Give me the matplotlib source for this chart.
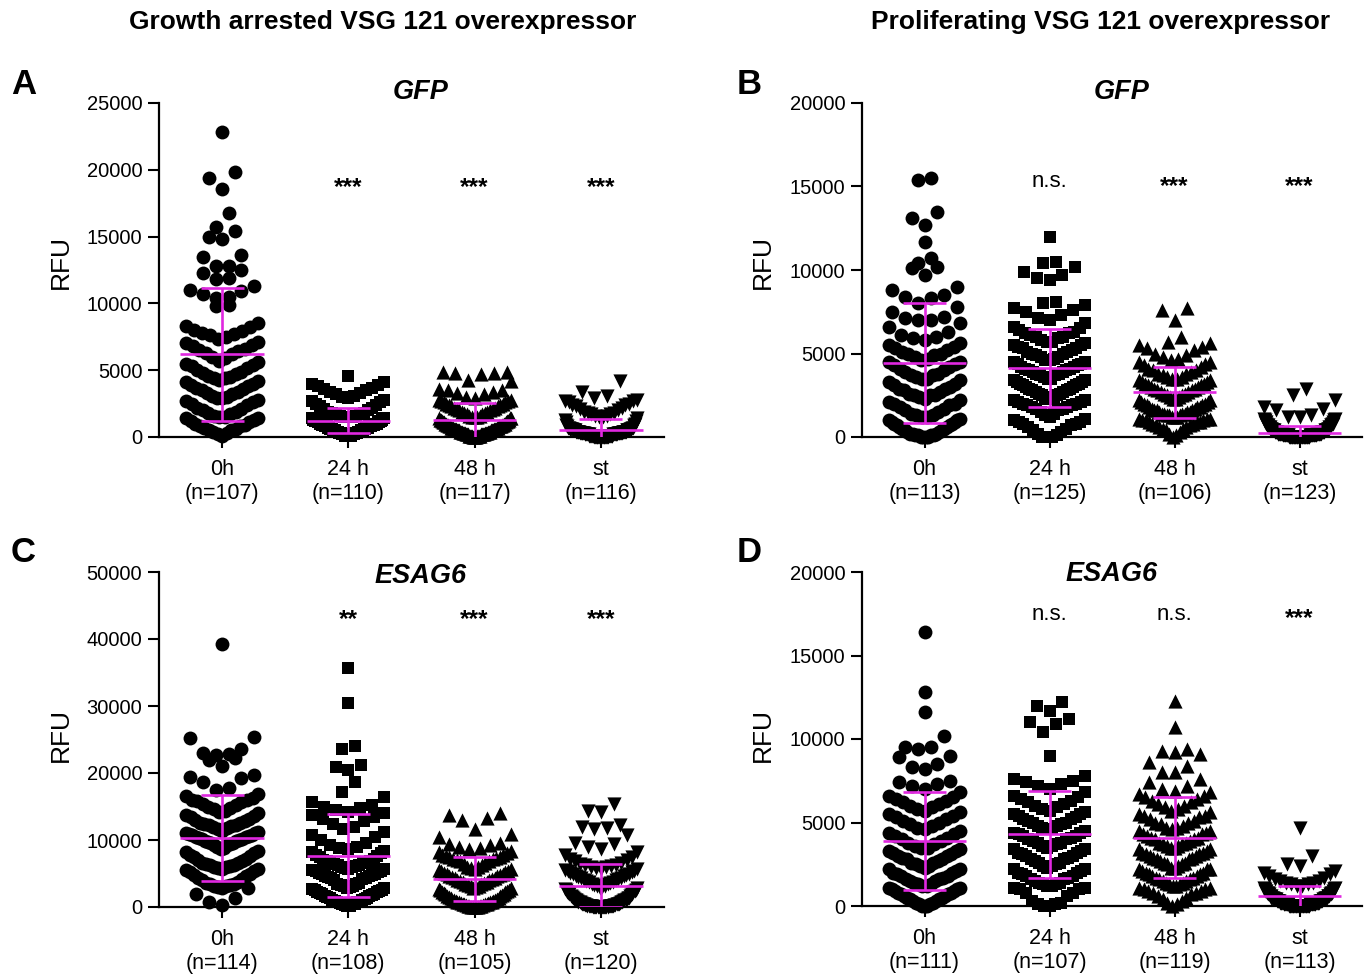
import numpy as np
import matplotlib
matplotlib.use("Agg")
import matplotlib.pyplot as plt

plt.rcParams['font.family'] = ['Liberation Sans', 'DejaVu Sans']

W, H = 1367, 974

categories = ["0h", "24 h", "48 h", "st"]

# ---- RFU values (units of 100 RFU) ----
A_0h = [228,198,194,186,168,157,154,150,148,136,
        135,128,128,125,123,119,118,113,110,109,
        107,105,104,99,98,85,83,82,80,79,
        78,77,76,75,73,70,69,68,66,65,
        64,62,60,59,57,55,54,53,52,50,
        49,48,45,44,43,42,41,40,39,38,
        37,34,33,31,30,29,28,27,26,25,
        22,20,19,17,16,15,14,14,13,11,
        10,9,8,7,6,5,4,3,2,1,
        71,63,56,47,46,44,36,35,32,29,
        24,21,18,15,12,8,5]
A_24h = [46,41,40,39,38,37,36,35,34,33,
         32,31,30,29,28,27,26,25,24,23,
         22,21,20,19,18,18,17,17,16,16,
         15,15,14,14,13,13,13,12,12,12,
         12,11,11,11,11,10,10,10,10,10,
         9,9,9,9,9,9,8,8,8,8,
         8,8,7,7,7,7,7,7,6,6,
         6,6,6,6,5,5,5,5,5,5,
         4,4,4,4,4,4,3,3,3,3,
         3,3,2,2,2,2,2,2,1,1,
         1,1,1,1,1,1,15,14,13,12]
A_48h = [49,49,48,48,47,43,42,36,35,35,
         34,33,32,30,29,28,28,27,27,26,
         26,25,25,24,24,23,23,22,22,21,
         21,20,20,19,19,18,18,17,17,16,
         16,15,15,15,14,14,14,13,13,13,
         12,12,12,11,11,11,10,10,10,10,
         9,9,9,9,8,8,8,8,8,7,
         7,7,7,7,6,6,6,6,6,6,
         5,5,5,5,5,5,4,4,4,4,
         4,4,3,3,3,3,3,3,2,2,
         2,2,2,2,2,1,1,1,1,1,
         1,1,1,0,0,0,0]
A_st = [42,34,31,29,28,27,27,26,25,24,
        24,23,22,21,20,19,18,17,16,15,
        18,17,16,15,14,13,12,11,10,9,
        9,8,8,7,7,6,6,5,5,4,
        4,4,4,3,3,3,3,2,2,2,
        7,7,6,6,6,6,6,5,5,5,
        5,5,5,4,4,4,4,4,4,3,
        3,3,3,3,3,3,3,2,2,2,
        2,2,2,2,2,2,1,1,1,1,
        1,1,1,1,1,1,1,1,0,0,
        0,0,0,0,0,0,0,0,0,0,
        0,0,0,0,0,0]

B_0h = [155,154,135,131,127,117,107,104,102,101,
        97,90,88,85,84,83,80,78,75,72,
        71,70,70,68,66,63,61,60,59,58,
        56,55,54,53,52,51,50,50,49,48,
        47,46,45,44,43,42,41,40,39,38,
        37,37,36,35,34,33,32,31,30,29,
        29,28,27,26,25,25,24,23,22,21,
        20,20,19,18,17,16,15,14,13,13,
        12,12,11,10,10,9,9,8,8,7,
        7,6,6,5,5,4,4,3,3,2,
        2,2,1,1,1,1,0,0,0,0,
        45,35,25]
B_24h = [120,105,104,102,99,97,95,94,81,80,
         79,77,76,75,73,71,70,68,66,65,
         64,63,62,62,61,60,60,59,58,57,
         57,56,55,55,54,53,53,52,51,51,
         50,50,49,48,48,47,46,46,45,45,
         44,44,43,42,42,41,41,40,40,39,
         39,38,38,37,37,36,35,35,34,34,
         33,33,32,32,31,31,30,30,29,29,
         28,28,27,27,26,26,25,25,24,24,
         23,23,22,22,21,21,20,20,19,19,
         18,18,17,17,16,15,14,13,12,11,
         10,9,9,8,8,7,6,5,4,3,
         2,1,0,0,0]
B_48h = [77,76,70,60,57,56,55,54,53,52,
         50,49,48,47,46,45,45,44,43,42,
         41,40,40,39,38,38,37,36,36,35,
         35,34,34,33,33,32,32,31,31,30,
         30,29,29,28,28,27,27,26,26,25,
         25,24,24,23,23,22,22,21,21,20,
         20,19,19,18,18,17,17,16,16,15,
         15,15,14,14,14,13,13,13,12,12,
         12,11,11,11,10,10,10,9,9,9,
         8,8,7,7,6,6,5,5,4,3,
         2,1,0,14,16,18]
B_st = [29,25,22,18,17,16,13,12,12,11,
        11,10,10,10,9,9,9,8,8,8,
        7,7,7,7,6,6,6,6,6,5,
        5,5,5,5,5,4,4,4,4,4,
        4,4,4,3,3,3,3,3,3,3,
        3,3,3,3,2,2,2,2,2,2,
        2,2,2,2,2,2,2,2,2,1,
        1,1,1,1,1,1,1,1,1,1,
        1,1,1,1,1,1,1,1,1,1,
        0,0,0,0,0,0,0,0,0,0,
        0,0,0,0,0,0,0,0,0,0,
        0,0,0,0,0,0,0,0,0,0,
        0,0,0]

C_0h = [393,253,252,236,230,229,227,222,220,211,
        197,194,192,186,178,174,169,165,163,160,
        159,158,156,154,152,150,148,146,144,142,
        140,138,136,134,132,130,128,126,125,124,
        123,122,121,120,118,116,114,112,111,110,
        109,108,107,106,105,104,103,102,101,100,
        99,98,97,96,95,94,93,92,90,88,
        86,84,82,80,78,76,74,72,70,68,
        66,65,64,63,62,61,60,59,58,57,
        56,55,54,52,50,48,46,44,42,40,
        38,36,35,34,33,32,31,30,29,28,
        20,14,8,3]
C_24h = [357,305,241,236,212,209,205,186,172,164,
         156,152,150,148,145,142,140,138,135,132,
         128,124,120,116,112,108,104,100,96,92,
         90,88,86,84,82,80,78,76,74,72,
         70,69,68,67,66,65,64,63,62,61,
         60,59,58,57,56,55,54,53,52,51,
         50,49,48,47,46,45,44,43,42,41,
         11,10,9,8,7,6,5,4,3,1,
         36,35,34,33,32,31,30,29,28,27,
         26,25,24,23,22,21,20,19,18,17,
         16,15,14,13,12,8,5,2]
C_48h = [140,137,133,130,117,109,104,96,94,92,
         90,88,86,84,82,80,78,77,76,75,
         74,73,72,71,70,69,68,66,64,62,
         60,59,58,57,56,55,54,53,52,51,
         50,49,48,47,46,45,44,43,42,41,
         40,39,38,37,36,35,34,33,32,31,
         30,29,28,27,26,25,24,23,22,21,
         20,19,18,17,16,15,14,13,12,11,
         10,10,9,9,8,8,7,7,6,6,
         5,5,4,4,3,3,2,2,1,1,
         0,0,0,0,0]
C_st = [153,143,142,122,119,118,117,107,95,94,
        90,86,82,78,75,72,70,68,66,64,
        63,62,61,60,59,58,57,56,55,54,
        53,52,51,50,49,48,47,46,45,44,
        43,42,41,40,39,38,37,36,35,34,
        33,32,31,30,29,28,27,26,25,24,
        23,22,21,20,19,18,17,16,15,14,
        13,13,12,12,11,11,10,10,9,9,
        8,8,7,7,6,6,5,5,5,4,
        4,4,3,3,3,3,2,2,2,2,
        1,1,1,1,1,1,0,0,0,0,
        0,0,0,0,0,0,0,0,0,0]

D_0h = [164,128,116,102,95,94,95,90,89,85,
        83,82,75,74,72,73,70,68,66,65,
        64,63,62,61,60,59,58,57,56,55,
        54,53,52,51,50,49,48,47,46,45,
        44,43,42,41,40,39,38,37,36,35,
        35,34,33,33,32,31,30,30,29,28,
        28,27,26,26,25,24,24,23,22,22,
        21,20,20,19,18,18,17,16,16,15,
        15,14,13,13,12,12,11,11,10,10,
        9,9,8,8,7,7,6,6,5,5,
        4,4,3,3,2,2,1,1,0,0,
        0]
D_24h = [122,120,117,112,110,109,104,90,78,76,
         75,74,73,72,70,68,66,65,64,63,
         62,61,60,59,58,57,56,55,55,54,
         53,52,52,51,50,50,49,48,48,47,
         46,46,45,44,44,43,42,42,41,40,
         40,39,38,38,37,36,36,35,34,34,
         33,32,32,31,30,30,29,28,28,27,
         26,26,25,24,24,23,22,22,21,20,
         20,19,18,18,17,16,16,15,14,14,
         13,13,12,12,11,11,10,10,8,8,
         6,3,2,1,1,0,0]
D_48h = [123,107,94,93,92,91,86,84,80,80,
         76,74,72,70,69,68,67,66,65,64,
         63,62,61,60,59,58,57,56,55,54,
         54,53,52,51,50,50,49,48,47,47,
         46,45,45,44,43,43,42,41,41,40,
         40,39,38,38,37,37,36,35,35,34,
         34,33,32,32,31,31,30,29,29,28,
         28,27,26,26,25,25,24,23,23,22,
         22,21,20,20,19,19,18,17,17,16,
         16,15,15,14,14,13,13,12,12,11,
         11,10,10,9,9,8,8,7,6,5,
         4,3,2,1,0,18,22,30,36]
D_st = [47,30,25,24,21,20,19,18,17,16,
        15,15,14,14,13,13,12,12,11,11,
        10,10,10,9,9,9,8,8,8,8,
        7,7,7,7,6,6,6,6,6,5,
        5,5,5,5,5,4,4,4,4,4,
        4,4,3,3,3,3,3,3,3,3,
        2,2,2,2,2,2,2,2,2,2,
        1,1,1,1,1,1,1,1,1,1,
        1,1,1,1,1,0,0,0,0,0,
        0,0,0,0,0,0,0,0,0,0,
        0,0,0,0,0,0,0,0,0,0,
        0,0,0]

A_n = [107, 110, 117, 116]
B_n = [113, 125, 106, 123]
C_n = [114, 108, 105, 120]
D_n = [111, 107, 119, 113]

# mean and SD (RFU)
A_mean = [6180, 1220, 1240, 550]
A_sd = [4950, 940, 1290, 800]
B_mean = [4430, 4130, 2670, 250]
B_sd = [3590, 2340, 1530, 420]
C_mean = [10250, 7660, 4180, 3180]
C_sd = [6400, 6200, 3300, 3200]
D_mean = [3900, 4300, 4100, 570]
D_sd = [2930, 2600, 2400, 650]

A_sig = ["", "***", "***", "***"]
B_sig = ["", "n.s.", "***", "***"]
C_sig = ["", "**", "***", "***"]
D_sig = ["", "n.s.", "n.s.", "***"]

col_titles = ["Growth arrested VSG 121 overexpressor",
              "Proliferating VSG 121 overexpressor"]
letters = ["A", "B", "C", "D"]
genes = ["GFP", "GFP", "ESAG6", "ESAG6"]
y_max = [25000, 20000, 50000, 20000]
y_step = [5000, 5000, 10000, 5000]

data = [[A_0h, A_24h, A_48h, A_st], [B_0h, B_24h, B_48h, B_st],
        [C_0h, C_24h, C_48h, C_st], [D_0h, D_24h, D_48h, D_st]]
ns = [A_n, B_n, C_n, D_n]
means = [A_mean, B_mean, C_mean, D_mean]
sds = [A_sd, B_sd, C_sd, D_sd]
sigs = [A_sig, B_sig, C_sig, D_sig]

# ---- layout (pixels) ----
MAG = "#e028e0"
markers = ["o", "s", "^", "v"]
msize_pt = [10.0, 9.0, 10.2, 10.2]
boxes = [(159, 664, 103, 437), (862, 1362, 103, 437),
         (159, 664, 572, 907), (862, 1362, 572, 906)]
letter_xy = [(24, 85), (749, 85), (23, 553), (749, 553)]
gene_xy = [(421, 92), (1122, 92), (421, 576), (1112, 574)]
rfu_xy = [(61, 262), (763, 262), (61, 735), (763, 735)]
sig_y = [183, 182, 615, 614]

fig = plt.figure(figsize=(W / 100, H / 100), dpi=100)


def swarm(vals, ypp, xpp, diam_px=13.5, bin_px=19.0, maxhalf=0.285):
    vals = np.asarray(vals, float)
    h = bin_px * ypp
    keys = np.floor(vals / h).astype(int)
    off = np.zeros(len(vals))
    for k in np.unique(keys):
        idx = np.where(keys == k)[0]
        idx = idx[np.argsort(vals[idx], kind="stable")]
        m = len(idx)
        dx = 0.95 * diam_px * xpp
        if m > 1 and (m - 1) / 2 * dx > maxhalf:
            dx = maxhalf / ((m - 1) / 2)
        slots = [(j - (m - 1) / 2) * dx for j in range(m)]
        slots.sort(key=lambda s: (round(abs(s), 9), s))
        off[idx] = slots
    return off


for p in range(4):
    l, r, t, b = boxes[p]
    ax = fig.add_axes([l / W, 1 - b / H, (r - l) / W, (b - t) / H])
    ax.set_xlim(-0.5, 3.5)
    ax.set_ylim(0, y_max[p])
    ypp = y_max[p] / (b - t)
    xpp = 4.0 / (r - l)
    for i in range(4):
        vals = np.array(data[p][i], float) * 100
        xs = i + swarm(vals, ypp, xpp)
        ax.scatter(xs, vals, marker=markers[i], s=msize_pt[i] ** 2, c="black",
                   linewidths=0, clip_on=False, zorder=2)
        m, s = means[p][i], sds[p][i]
        kw = dict(color=MAG, lw=1.9, zorder=3, solid_capstyle="butt")
        ax.plot([i - 0.33, i + 0.33], [m, m], **kw)
        ax.plot([i, i], [m - s, m + s], **kw)
        for yy in (m - s, m + s):
            ax.plot([i - 0.17, i + 0.17], [yy, yy], **kw)
        lab = sigs[p][i]
        if lab:
            if lab.startswith("*"):
                ax.text(i, (b - sig_y[p] - 5) * ypp, lab, ha="center",
                        va="center", fontsize=17.5, fontweight="bold")
            else:
                ax.text(i, (b - sig_y[p]) * ypp, lab, ha="center",
                        va="center", fontsize=16)
    for sp in ("top", "right"):
        ax.spines[sp].set_visible(False)
    for sp in ("left", "bottom"):
        ax.spines[sp].set_linewidth(1.6)
    yt = np.arange(0, y_max[p] + 1, y_step[p])
    ax.set_yticks(yt)
    ax.set_yticklabels([str(int(v)) for v in yt])
    ax.set_xticks(range(4))
    ax.set_xticklabels([f"{c}\n(n={n})" for c, n in zip(categories, ns[p])])
    for lbl in ax.get_xticklabels():
        lbl.set_linespacing(1.2)
    ax.tick_params(axis="y", length=8, width=1.5, labelsize=14.5, pad=4)
    ax.tick_params(axis="x", length=8, width=1.5, labelsize=15.5, pad=8)

    fig.text(letter_xy[p][0] / W, 1 - letter_xy[p][1] / H, letters[p],
             ha="center", va="center", fontsize=25, fontweight="bold")
    fig.text(gene_xy[p][0] / W, 1 - gene_xy[p][1] / H, genes[p],
             ha="center", va="center", fontsize=19.5, fontweight="bold",
             fontstyle="italic")
    fig.text(rfu_xy[p][0] / W, 1 - rfu_xy[p][1] / H, "RFU", rotation=90,
             ha="center", va="center", fontsize=19)

fig.text(383 / W, 1 - 22 / H, col_titles[0], ha="center", va="center",
         fontsize=19, fontweight="bold")
fig.text(1101 / W, 1 - 22 / H, col_titles[1], ha="center", va="center",
         fontsize=19, fontweight="bold")

fig.savefig("out.png", dpi=100, facecolor="white")
